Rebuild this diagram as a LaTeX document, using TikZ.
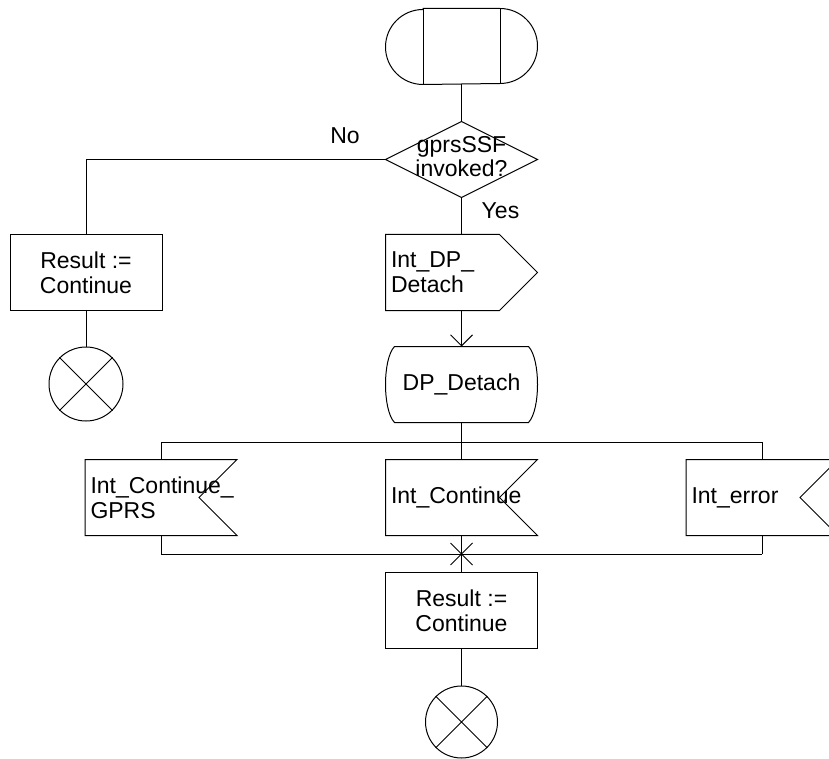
\documentclass[tikz,border=0pt]{standalone}
\usepackage{fontspec}
\setmainfont{Liberation Sans}
\usetikzlibrary{arrows.meta}
\tikzset{
  blk/.style={draw=none, minimum width=151pt, minimum height=75pt, inner sep=0pt,
    font=\fontsize{23}{25}\selectfont, align=center},
  lblk/.style={blk, text width=141pt, inner xsep=5pt, align=left},
  lbl/.style={inner sep=0pt, font=\fontsize{23}{25}\selectfont},
  circ/.style={draw, circle, minimum size=74pt, inner sep=0pt},
  arr/.style={-{Straight Barb[length=11pt,width=22pt]}}
}
\begin{document}
\begin{tikzpicture}[x=1pt,y=-1pt,line width=1pt]
\useasboundingbox (0,0) rectangle (829,759);
\clip (0,0) rectangle (829,759);
% start terminal
\node[blk] (start) at (461.5,46.5) {};
\draw ([xshift=37.5pt]start.north west) -- ([xshift=-37.5pt]start.north east)
  arc[start angle=90,end angle=-90,radius=37.5pt]
  -- ([xshift=37.5pt]start.south west)
  arc[start angle=270,end angle=90,radius=37.5pt] -- cycle;
\draw ([xshift=37.5pt]start.north west) -- ([xshift=37.5pt]start.south west);
\draw ([xshift=-37.5pt]start.north east) -- ([xshift=-37.5pt]start.south east);
% decision
\node[blk] (dec) at (461.5,159.5) {};
\draw (dec.north) -- (dec.east) -- (dec.south) -- (dec.west) -- cycle;
\node[lbl, align=center, font=\fontsize{23}{24}\selectfont] (dectxt) at (461.5,157) {gprsSSF\\invoked?};
\node[lbl] (no) at (345,135.5) {No};
\node[lbl] (yes) at (500.5,210.5) {Yes};
% left branch
\node[blk] (res1) at (86,272.5) {Result :=\\Continue};
\draw (res1.north west) rectangle (res1.south east);
\node[circ] (stop1) at (86,384) {};
\draw (stop1.north west) -- (stop1.south east) (stop1.north east) -- (stop1.south west);
% output signal
\node[lblk] (out) at (461.5,272.5) {Int\_DP\_\\Detach};
\draw (out.north west) -- ([xshift=-38pt]out.north east) -- (out.east)
  -- ([xshift=-38pt]out.south east) -- (out.south west) -- cycle;
% state
\node[blk] (st) at (461.5,384.5) {DP\_Detach};
\draw ([xshift=9pt]st.north west) -- ([xshift=-9pt]st.north east)
  .. controls ([xshift=3pt,yshift=-12.5pt]st.north east) and ([xshift=3pt,yshift=12.5pt]st.south east) .. ([xshift=-9pt]st.south east)
  -- ([xshift=9pt]st.south west)
  .. controls ([xshift=-3pt,yshift=12.5pt]st.south west) and ([xshift=-3pt,yshift=-12.5pt]st.north west) .. cycle;
% inputs
\node[lblk] (in1) at (161,497.5) {Int\_Continue\_\\GPRS};
\node[lblk] (in2) at (461.5,497.5) {Int\_Continue};
\node[lblk] (in3) at (762,497.5) {Int\_error};
\foreach \n in {in1,in2,in3}{
  \draw (\n.north west) -- (\n.north east) -- ([xshift=-38pt]\n.east)
    -- (\n.south east) -- (\n.south west) -- cycle;
}
% result 2 and stop
\node[blk] (res2) at (461.5,610.5) {Result :=\\Continue};
\draw (res2.north west) rectangle (res2.south east);
\node[circ, minimum size=72pt] (stop2) at (461.5,722) {};
\draw (stop2.north west) -- (stop2.south east) (stop2.north east) -- (stop2.south west);
% coordinates for branches
\coordinate (nol) at (86,159.5);
\coordinate (fork) at (461.5,442);
\coordinate (forkl) at (161,442);
\coordinate (forkr) at (762,442);
\coordinate (join) at (461.5,554);
\coordinate (joinl) at (161,554);
\coordinate (joinr) at (762,554);
% connectors
\draw (start.south) -- (dec.north);
\draw (dec.west) -- (nol) -- (res1.north);
\draw (res1.south) -- (stop1.north);
\draw (dec.south) -- (out.north);
\draw[arr] (out.south) -- (st.north);
\draw (st.south) -- (fork);
\draw (forkl) -- (forkr);
\draw (forkl) -- (in1.north);
\draw (fork) -- (in2.north);
\draw (forkr) -- (in3.north);
\draw (in1.south) -- (joinl);
\draw (in2.south) -- (join);
\draw (in3.south) -- (joinr);
\draw (joinl) -- (joinr);
\draw ([shift={(-11pt,-11pt)}]join) -- ([shift={(11pt,11pt)}]join)
      ([shift={(11pt,-11pt)}]join) -- ([shift={(-11pt,11pt)}]join);
\draw (join) -- (res2.north);
\draw (res2.south) -- (stop2.north);
\end{tikzpicture}
\end{document}
